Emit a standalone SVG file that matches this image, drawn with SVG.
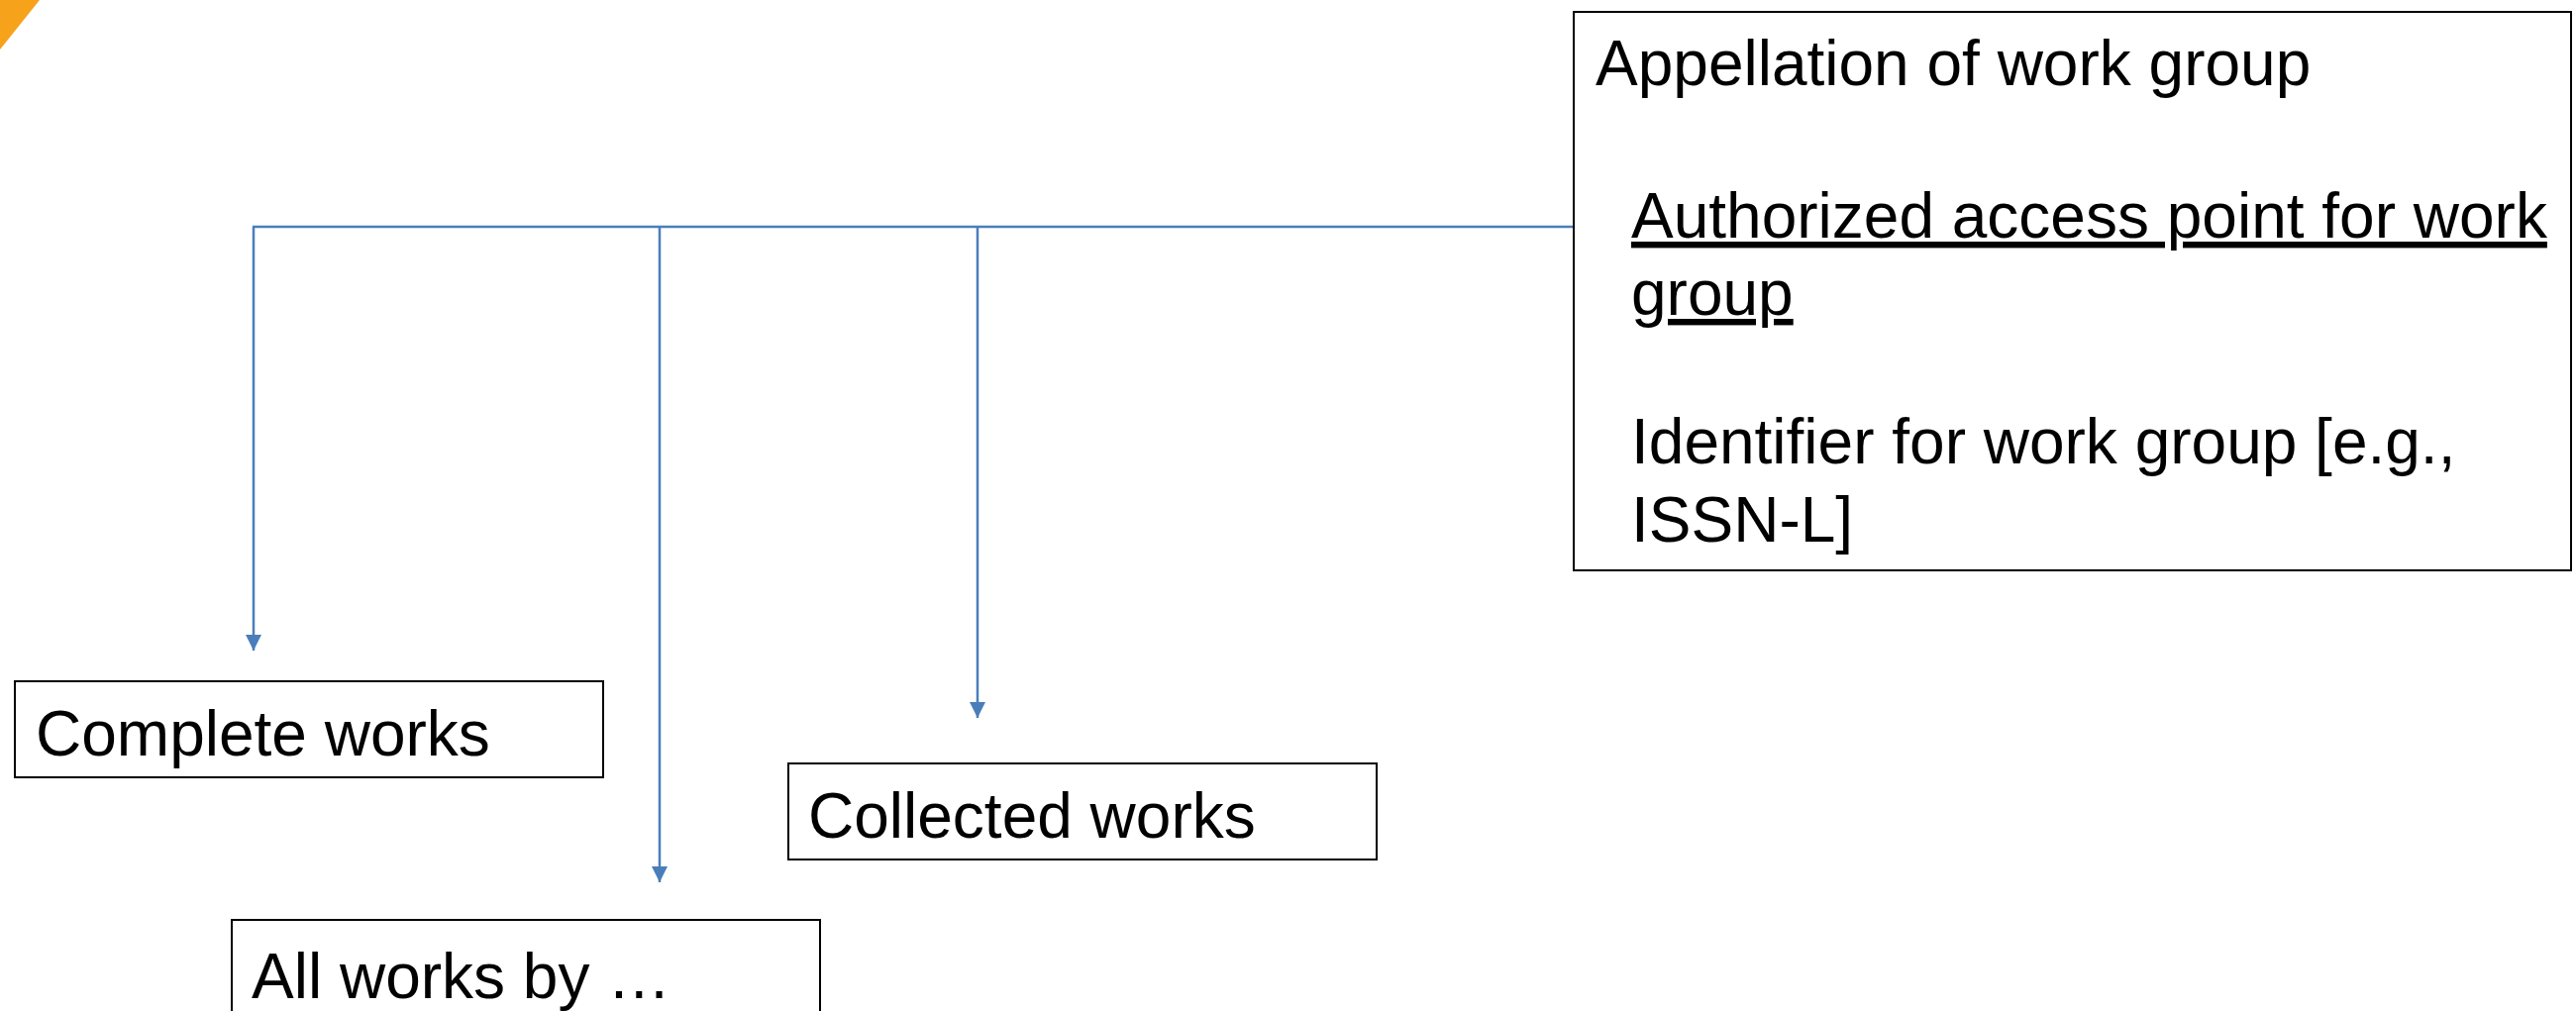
<svg xmlns="http://www.w3.org/2000/svg" width="2601" height="1021" viewBox="0 0 2601 1021">
<style>
.box{fill:#fff;stroke:#000;stroke-width:2}
.t{font-family:"Liberation Sans",Arial,sans-serif;font-size:64px;fill:#000}
.c{stroke:#4A7EBB;stroke-width:2.5;fill:none}
</style>
<defs>
<marker id="ah" markerUnits="userSpaceOnUse" markerWidth="16" markerHeight="17" refX="16" refY="8" orient="auto">
<path d="M0,0 L16,8 L0,16 Z" fill="#4A7EBB"/>
</marker>
</defs>
<rect width="2601" height="1021" fill="#fff"/>
<polygon points="0,0 40,0 0,50" fill="#F7A21B"/>
<g id="connectors">
<line class="c" x1="1596" y1="229" x2="255" y2="229"/>
<line class="c" x1="256" y1="229" x2="256" y2="657" marker-end="url(#ah)"/>
<line class="c" x1="666" y1="229" x2="666" y2="891" marker-end="url(#ah)"/>
<line class="c" x1="987" y1="229" x2="987" y2="725" marker-end="url(#ah)"/>
</g>
<g id="work-group">
<rect class="box" x="1589" y="12" width="1007" height="564"/>
<text class="t" x="1611" y="86">Appellation of work group</text>
<text class="t" x="1647" y="240" text-decoration="underline">Authorized access point for work</text>
<text class="t" x="1647" y="318" text-decoration="underline">group</text>
<text class="t" x="1647" y="468">Identifier for work group [e.g.,</text>
<text class="t" x="1647" y="547">ISSN-L]</text>
</g>
<g id="complete-works">
<rect class="box" x="15" y="688" width="594" height="97"/>
<text class="t" x="36" y="763">Complete works</text>
</g>
<g id="collected-works">
<rect class="box" x="796" y="771" width="594" height="97"/>
<text class="t" x="816" y="846">Collected works</text>
</g>
<g id="all-works-by">
<rect class="box" x="234" y="929" width="594" height="110"/>
<text class="t" x="254" y="1008">All works by …</text>
</g>
</svg>
